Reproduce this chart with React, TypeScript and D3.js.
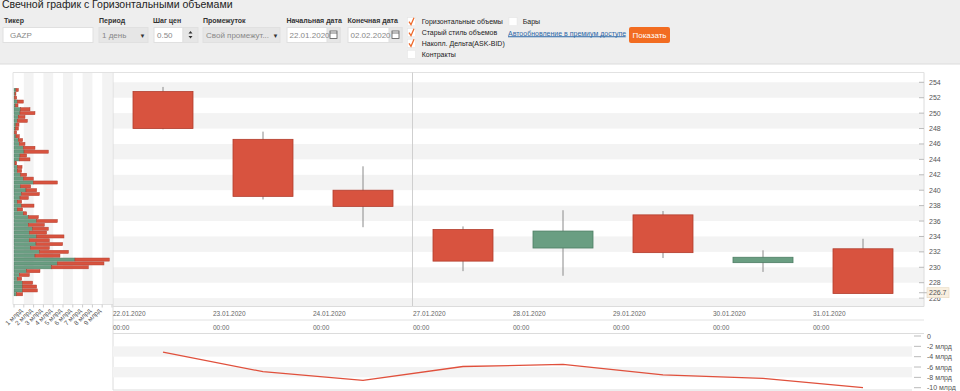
import React from 'react';
import * as d3 from 'd3';

const dates = ['22.01.2020', '23.01.2020', '24.01.2020', '27.01.2020', '28.01.2020', '29.01.2020', '30.01.2020', '31.01.2020'];
const times = ['00:00', '00:00', '00:00', '00:00', '00:00', '00:00', '00:00', '00:00'];
const openP = [252.8, 246.6, 240.0, 234.9, 232.5, 236.8, 230.6, 232.4];
const closeP = [248.0, 239.2, 237.9, 230.8, 234.7, 231.9, 231.3, 226.6];
const highP = [253.4, 247.6, 243.1, 235.3, 237.4, 237.3, 232.2, 233.7];
const lowP = [247.9, 238.8, 235.2, 229.5, 228.9, 231.2, 229.4, 226.6];
const deltaBn = [-3.1, -6.9, -8.6, -5.9, -5.5, -7.5, -8.2, -10.0];

// volume profile, price levels from 253.0 down by 0.5
const profileTop = 253.0;
const profileStep = 0.5;
const buyBn = [0.20, 0.10, 0.07, 0.34, 0.17, 0.68, 0.61, 0.44, 0.34, 0.20, 0.14, 0.07, 0.20, 0.44, 0.54, 0.95, 1.02, 0.61, 0.54, 0.10, 0.34, 0.34, 0.68, 0.95, 1.97, 0.68, 1.22, 0.78, 0.61, 0.34, 0.78, 0.34, 0.95, 1.46, 2.31, 1.46, 1.90, 1.56, 2.31, 1.56, 2.24, 1.70, 2.59, 2.14, 6.22, 4.42, 3.84, 1.29, 0.54, 0.34, 0.88, 0.88, 0.88, 0.27];
const sellBn = [0.24, 0.10, 0.20, 0.61, 0.24, 0.95, 1.53, 0.68, 1.02, 0.31, 0.31, 0.20, 0.34, 0.44, 0.58, 1.19, 2.48, 0.68, 1.09, 0.17, 0.48, 0.44, 0.61, 1.02, 2.45, 1.02, 1.09, 1.80, 0.85, 0.44, 1.26, 0.54, 0.34, 1.02, 2.11, 1.63, 1.60, 1.77, 2.79, 2.04, 2.72, 1.90, 2.96, 2.55, 3.50, 4.76, 3.74, 1.36, 1.02, 0.44, 1.02, 1.43, 1.50, 0.61];

const priceTicks = [226, 228, 230, 232, 234, 236, 238, 240, 242, 244, 246, 248, 250, 252, 254];
const deltaTicks = [0, -2, -4, -6, -8, -10];
const profileTicks = [1, 2, 3, 4, 5, 6, 7, 8, 9];
const lastPrice = 226.7;

const RED = '#d8533f';
const RED_DARK = '#b23c2c';
const GREEN = '#6a9e82';
const GREEN_DARK = '#4d7d63';
const FONT = '"Liberation Sans", Arial, sans-serif';

export default function App() {
  const plotL = 113, plotR = 924, plotT = 72.5, plotB = 306.5;
  const x = d3.scaleLinear().domain([0, 8.11]).range([plotL, plotR]);
  const y = d3.scaleLinear().domain([228, 254]).range([282.7, 82.3]);
  const dL = 113, dR = 912, dT = 334, dB = 390;
  const yd = d3.scaleLinear().domain([-10, 0]).range([387.7, 336]);
  const px = d3.scaleLinear().domain([0, 10]).range([14, 112]);
  const profL = 13;

  const bandW = 100;
  const candleW = 60;

  const stripes: number[] = [];
  for (let v = 254; v > 223; v -= 4) stripes.push(v);

  const deltaLine = d3.line<number>()
    .x((_, i) => x(i) + bandW / 2)
    .y((d) => yd(d));

  const checkRows = [
    { label: 'Горизонтальные объемы', checked: true, y: 21.7 },
    { label: 'Старый стиль объемов', checked: true, y: 32.7 },
    { label: 'Накопл. Дельта(ASK-BID)', checked: true, y: 43.3 },
    { label: 'Контракты', checked: false, y: 54.3 },
  ];

  const check = (cx: number, cy: number) => (
    <path d={`M${cx - 2.5},${cy} L${cx - 0.5},${cy + 3} L${cx + 2.5},${cy - 4}`} fill="none" stroke="#ee6a2c" strokeWidth={1.3} />
  );

  return (
    <svg width={960} height={391} style={{ position: 'absolute', left: 0, top: 0, background: '#fff' }} fontFamily={FONT}>
      {/* header */}
      <rect x={0} y={0} width={960} height={64} fill="#eeeeee" />
      <line x1={0} x2={960} y1={64} y2={64} stroke="#dcdcdc" />
      <text x={2} y={7.5} fontSize={10.5} fill="#222">Свечной график с Горизонтальными объемами</text>

      <g fontSize={7} fontWeight="bold" fill="#333">
        <text x={4} y={23}>Тикер</text>
        <text x={99} y={23}>Период</text>
        <text x={153} y={23}>Шаг цен</text>
        <text x={203} y={23}>Промежуток</text>
        <text x={286.5} y={23}>Начальная дата</text>
        <text x={347.5} y={23}>Конечная дата</text>
      </g>
      <g fontSize={8} fill="#888">
        <rect x={3} y={27.5} width={90} height={15} fill="#fff" stroke="#e0e0e0" />
        <text x={10} y={38}>GAZP</text>
        <rect x={99} y={27.5} width={49} height={15} fill="#e6e6e6" stroke="#e0e0e0" />
        <text x={102} y={38}>1 день</text>
        <text x={139.5} y={37.5} fontSize={6} fill="#333">▼</text>
        <rect x={154} y={27.5} width={29} height={15} fill="#fff" stroke="#e0e0e0" />
        <rect x={183} y={27.5} width={15} height={15} fill="#e6e6e6" stroke="#e0e0e0" />
        <text x={157} y={38}>0.50</text>
        <path d="M188.5,33.5 L190.5,31 L192.5,33.5 Z M188.5,36 L190.5,38.5 L192.5,36 Z" fill="#333" />
        <rect x={203} y={27.5} width={77} height={15} fill="#e6e6e6" stroke="#e0e0e0" />
        <text x={206} y={38}>Свой промежут...</text>
        <text x={272.5} y={37.5} fontSize={6} fill="#333">▼</text>
        <rect x={287} y={27.5} width={53} height={15} fill="#fff" stroke="#e0e0e0" />
        <rect x={327} y={27.5} width={13} height={15} fill="#e6e6e6" stroke="#e0e0e0" />
        <text x={289.5} y={38}>22.01.2020</text>
        <rect x={330} y={31} width={7} height={7.5} fill="#fff" stroke="#555" strokeWidth={0.8} />
        <line x1={330} x2={337} y1={33} y2={33} stroke="#555" strokeWidth={0.8} />
        <rect x={348} y={27.5} width={54} height={15} fill="#fff" stroke="#e0e0e0" />
        <rect x={389} y={27.5} width={13} height={15} fill="#e6e6e6" stroke="#e0e0e0" />
        <text x={350.5} y={38}>02.02.2020</text>
        <rect x={392} y={31} width={7} height={7.5} fill="#fff" stroke="#555" strokeWidth={0.8} />
        <line x1={392} x2={399} y1={33} y2={33} stroke="#555" strokeWidth={0.8} />
      </g>

      <g fontSize={7} fill="#222">
        {checkRows.map((r) => (
          <g key={r.label}>
            <rect x={407.5} y={r.y - 4} width={8} height={8} fill="#fff" stroke="#e4e4e4" strokeWidth={0.5} />
            {r.checked && check(411.5, r.y)}
            <text x={421.7} y={r.y + 2.5}>{r.label}</text>
          </g>
        ))}
        <rect x={509} y={17.7} width={8} height={8} fill="#fff" stroke="#e4e4e4" strokeWidth={0.5} />
        <text x={522.7} y={24.2}>Бары</text>
        <text x={508} y={35.5} fill="#2f69a8" textDecoration="underline">Автообновление в премиум доступе</text>
        <line x1={508} x2={625} y1={36.6} y2={36.6} stroke="#2f69a8" strokeWidth={0.6} />
      </g>
      <rect x={629} y={27} width={41} height={16} rx={2} fill="#f26c21" />
      <text x={649.5} y={37.8} fontSize={8} fill="#fff" textAnchor="middle">Показать</text>

      {/* volume profile panel */}
      <rect x={profL} y={plotT} width={plotL - profL} height={plotB - plotT - 2} fill="#fff" />
      {[1, 3, 5, 7, 9].map((v) => (
        <rect key={v} x={px(v)} y={plotT} width={px(v + 1) - px(v)} height={plotB - plotT - 2} fill="#f3f3f3" />
      ))}
      {buyBn.map((b, i) => {
        const p = profileTop - i * profileStep;
        const yc = y(p);
        const h = 3.1;
        return (
          <g key={i}>
            <rect x={px(0)} y={yc - h / 2} width={px(b) - px(0)} height={h} fill={GREEN} stroke={GREEN_DARK} strokeWidth={0.5} />
            <rect x={px(b)} y={yc - h / 2} width={px(b + sellBn[i]) - px(b)} height={h} fill={RED} stroke={RED_DARK} strokeWidth={0.5} />
          </g>
        );
      })}
      <line x1={profL} x2={plotL} y1={plotT} y2={plotT} stroke="#e2e2e2" />
      <line x1={profL} x2={profL} y1={plotT} y2={plotB - 2} stroke="#e2e2e2" />
      <line x1={profL} x2={plotL} y1={plotB - 2} y2={plotB - 2} stroke="#e2e2e2" />
      {[0, ...profileTicks, 10].map((v) => (
        <line key={v} x1={px(v)} x2={px(v)} y1={plotB - 2} y2={plotB + 1} stroke="#ccc" />
      ))}
      <g fontSize={6.5} fill="#555">
        {profileTicks.map((v) => (
          <text key={v} transform={`translate(${px(v) - 1},${311}) rotate(-45)`} textAnchor="end">{`${v} млрд`}</text>
        ))}
      </g>

      {/* main plot */}
      <defs>
        <clipPath id="mainClip">
          <rect x={plotL} y={plotT} width={plotR - plotL} height={plotB - plotT} />
        </clipPath>
        <clipPath id="deltaClip">
          <rect x={dL} y={dT} width={dR - dL} height={dB - dT} />
        </clipPath>
      </defs>
      <g clipPath="url(#mainClip)">
        {stripes.map((v) => (
          <rect key={v} x={plotL} y={y(v)} width={plotR - plotL} height={y(v - 2) - y(v)} fill="#f3f3f3" />
        ))}
      </g>
      <line x1={plotL} x2={plotR} y1={plotT} y2={plotT} stroke="#e2e2e2" />
      <line x1={plotL} x2={plotL} y1={plotT} y2={dB} stroke="#dcdcdc" />
      <line x1={plotR} x2={plotR} y1={plotT} y2={plotB} stroke="#dcdcdc" />
      <line x1={412.5} x2={412.5} y1={plotT} y2={plotB} stroke="#cfcfcf" />

      {openP.map((o, i) => {
        const c = closeP[i];
        const cx = x(i) + bandW / 2;
        const up = c >= o;
        const top = y(Math.max(o, c));
        const bot = y(Math.min(o, c));
        return (
          <g key={i}>
            <line x1={cx} x2={cx} y1={y(highP[i])} y2={y(lowP[i])} stroke="#8a8a8a" strokeWidth={1} />
            <rect x={cx - candleW / 2} y={top} width={candleW} height={Math.max(1, bot - top)}
              fill={up ? GREEN : RED} stroke={up ? GREEN_DARK : RED_DARK} strokeWidth={0.8} />
          </g>
        );
      })}

      {/* right price axis */}
      <g fontSize={7} fill="#555">
        {priceTicks.map((v) => (
          <g key={v}>
            <line x1={919} x2={plotR} y1={y(v)} y2={y(v)} stroke="#bbb" />
            <text x={929} y={y(v) + 2.5}>{v}</text>
          </g>
        ))}
      </g>
      <line x1={919} x2={927} y1={y(lastPrice)} y2={y(lastPrice)} stroke="#bbb" />
      <rect x={927} y={y(lastPrice) - 5} width={22} height={10} fill="#f8efe0" stroke="#e6d8c0" strokeWidth={0.6} />
      <text x={929} y={y(lastPrice) + 2.5} fontSize={7} fill="#555">{lastPrice}</text>

      {/* date axis rows */}
      <line x1={plotL} x2={plotR} y1={plotB} y2={plotB} stroke="#dcdcdc" />
      <line x1={plotL} x2={plotR} y1={320} y2={320} stroke="#e2e2e2" />
      <line x1={plotL} x2={plotR} y1={333.5} y2={333.5} stroke="#dcdcdc" />
      <g fontSize={6.5} fill="#666">
        {dates.map((d, i) => (
          <text key={d} x={x(i)} y={315.5}>{d}</text>
        ))}
        {times.map((t, i) => (
          <text key={i} x={x(i)} y={329.5}>{t}</text>
        ))}
      </g>

      {/* delta panel */}
      <g clipPath="url(#deltaClip)">
        {[-2, -6].map((v) => (
          <rect key={v} x={dL} y={yd(v)} width={dR - dL} height={yd(v - 2) - yd(v)} fill="#f3f3f3" />
        ))}
      </g>
      <line x1={dL} x2={dR} y1={dB} y2={dB} stroke="#dcdcdc" />
      <path d={deltaLine(deltaBn) || ''} fill="none" stroke="#e0503c" strokeWidth={1.3} />
      <g fontSize={7} fill="#555">
        {deltaTicks.map((v) => (
          <g key={v}>
            <line x1={914} x2={921} y1={yd(v)} y2={yd(v)} stroke="#bbb" />
            <text x={927} y={yd(v) + 2.5}>{v === 0 ? '0' : `${v} млрд`}</text>
          </g>
        ))}
      </g>
    </svg>
  );
}
